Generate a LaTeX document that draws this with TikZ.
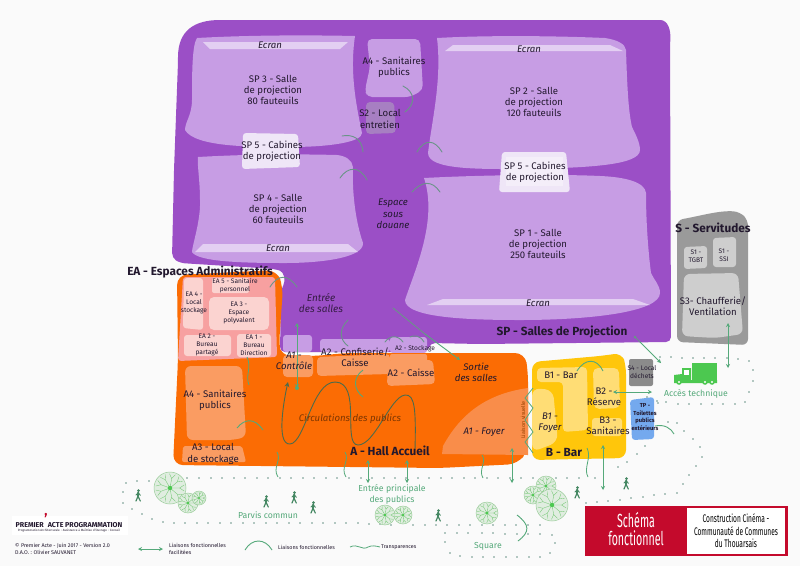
\documentclass[tikz,border=0pt]{standalone}
\usepackage{fontspec}
\usepackage{graphicx}
\setmainfont{Fira Sans}
\usetikzlibrary{arrows.meta}

\definecolor{violet}{HTML}{9B4FC6}
\definecolor{mauve}{HTML}{C79DE4}
\definecolor{ecran}{HTML}{E3CFF2}
\definecolor{cabine}{HTML}{EFE6F7}
\definecolor{entretien}{HTML}{A77FC2}
\definecolor{hall}{HTML}{FB6C04}
\definecolor{halllight}{HTML}{FA9C62}
\definecolor{foyer}{HTML}{F98D4A}
\definecolor{rosebg}{HTML}{F7A0A0}
\definecolor{roselight}{HTML}{FBD3D0}
\definecolor{bar}{HTML}{FFC60B}
\definecolor{barlight}{HTML}{FFDD75}
\definecolor{gristech}{HTML}{9A9A9A}
\definecolor{grislight}{HTML}{CECECE}
\definecolor{grislocal}{HTML}{8B8B8B}
\definecolor{bleutp}{HTML}{74A9EE}
\definecolor{vert}{HTML}{55A97A}
\definecolor{vertvif}{HTML}{4CC850}
\definecolor{vertgris}{HTML}{6A9488}
\definecolor{encre}{HTML}{22182E}
\definecolor{rouge}{HTML}{C40A2C}

\tikzset{
  lbl/.style={align=center, font=\fontsize{9.6}{11.3}\selectfont, text=encre, inner sep=0pt},
  small/.style={align=center, font=\fontsize{6.6}{8}\selectfont, text=encre, inner sep=0pt},
  ital/.style={align=center, font=\fontsize{9.6}{11.3}\selectfont\itshape, text=encre, inner sep=0pt},
  zone/.style={font=\fontsize{11.8}{13}\selectfont\bfseries, text=encre, inner sep=0pt},
  site/.style={align=center, font=\fontsize{8.7}{11}\selectfont, text=vert, inner sep=0pt},
  legende/.style={inner sep=0pt, align=left, anchor=west, font=\fontsize{5.4}{7}\selectfont, text=encre},
  liaison/.style={vertgris, line width=0.9pt, line cap=round},
  arc/.style={vert, line width=0.9pt},
  acces/.style={vert, line width=0.9pt, {Stealth[length=4pt,width=4pt]}-{Stealth[length=4pt,width=4pt]}},
  sortie/.style={vert, line width=0.9pt, -{Stealth[length=4pt,width=4pt]}},
  wave/.style={vert, line width=0.8pt},
  pics/tree/.style={code={
    \fill[green!40!black!12, draw=green!50!black!40, line width=0.5pt] (0,0) circle (#1);
    \foreach \a in {0,40,...,320} {
      \draw[green!60!black!55, line width=0.35pt] (0,0) -- (\a:#1*0.6) -- (\a+12:#1*0.9);
      \draw[green!60!black!55, line width=0.35pt] (\a:#1*0.6) -- (\a-12:#1*0.9);
    }
    \fill[vertvif] (0,0) circle (#1*0.14);
  }},
  pics/walker/.style={code={
    \fill[vert!80!black] (0.5,-4.5) circle (1.5);
    \draw[vert!80!black, line width=1.8pt, line cap=round] (0.2,-2.6) -- (0,1.2);
    \draw[vert!80!black, line width=1.2pt, line cap=round] (0,1.2) -- (-2,6) (0,1.2) -- (2.3,6);
    \draw[vert!80!black, line width=0.9pt, line cap=round] (0.2,-2.4) -- (2.4,0.4) (0.2,-2.4) -- (-2,0);
  }}
}

\begin{document}
\begin{tikzpicture}[x=1pt, y=-1pt]
\useasboundingbox (0,0) rectangle (800,566);
\fill[white!98!black] (0,0) rectangle (800,566);

% salles de projection
\fill[violet, rounded corners=5pt] (178,62) .. controls (178,30) and (195,20) .. (225,20) -- (655,20) .. controls (668,20) and (671,30) .. (670,45) -- (671,342) -- (480,344) -- (430,343) -- (428,352) -- (280,352) -- (281,290) .. controls (286,280) and (284,272) .. (275,269) -- (180,263) -- (172,258) -- (174,170) -- cycle;
\fill[mauve] (197,38) .. controls (250,35) and (310,35) .. (355,36) .. controls (350,70) and (355,100) .. (362,133) .. controls (362,142) and (330,147) .. (290,147) .. controls (250,147) and (195,147) .. (185,130) .. controls (185,122) and (192,115) .. (192,100) .. controls (192,75) and (192,45) .. (197,38) -- cycle;
\fill[mauve] (198,157) .. controls (250,154) and (300,154) .. (337,155) .. controls (346,156) and (352,160) .. (353,167) .. controls (352,190) and (355,220) .. (363,243) .. controls (364,258) and (320,263) .. (285,263) .. controls (245,263) and (198,262) .. (192,252) .. controls (192,246) and (201,220) .. (200,200) .. controls (200,180) and (197,165) .. (198,157) -- cycle;
\fill[ecran] (203,42) -- (348,42) -- (340,49) -- (210,49) -- cycle;
\fill[ecran] (195,252) -- (203,244) -- (348,244) -- (358,252) -- cycle;
\fill[cabine, rounded corners=3pt] (243,133) -- (298,134) -- (300,167) -- (242,169) -- cycle;
\fill[mauve, rounded corners=5pt] (367,39) -- (420,39) -- (423,90) -- (410,97) -- (367,97) -- (365,90) -- (370,67) -- cycle;
\fill[entretien, rounded corners=4pt] (366,102) -- (394,102) -- (396,133) -- (366,134) -- cycle;
\fill[mauve] (437,38) .. controls (490,35) and (560,36) .. (605,38) .. controls (618,40) and (625,44) .. (626,50) .. controls (627,80) and (628,110) .. (632,127) .. controls (636,135) and (640,143) .. (640,150) .. controls (640,165) and (590,168) .. (520,169) .. controls (480,169) and (428,170) .. (428,153) .. controls (432,120) and (442,80) .. (437,38) -- cycle;
\fill[ecran] (445,51) -- (453,45) -- (610,45) -- (623,51) -- cycle;
\fill[mauve] (424,178) .. controls (480,175) and (560,174) .. (600,176) .. controls (625,177) and (645,182) .. (646,193) .. controls (646,220) and (648,250) .. (651,273) .. controls (654,280) and (660,285) .. (660,293) .. controls (660,312) and (590,320) .. (520,320) .. controls (470,320) and (405,318) .. (405,300) .. controls (415,270) and (438,220) .. (424,178) -- cycle;
\fill[ecran] (427,305) -- (443,299) -- (633,299) -- (650,305) -- cycle;
\fill[cabine, rounded corners=3pt] (502,152) -- (566,152) -- (570,192) -- (499,192) -- cycle;
\fill[white, opacity=0.35] (506,157) rectangle (563,186);
\fill[mauve, rounded corners=3pt] (283,352) -- (283,335) -- (312,335) -- (312,352) -- cycle;
\fill[mauve, rounded corners=3pt] (320,352) -- (320,339) -- (390,339) -- (390,352) -- cycle;
\fill[mauve, rounded corners=3pt] (390,353) -- (390,337) -- (427,337) -- (427,353) -- cycle;

% hall accueil
\fill[white] (281,353) rectangle (430,356);
\fill[hall, rounded corners=10pt] (177,275) -- (277,270) -- (283,287) -- (279,345) -- (281,356) -- (316,356) -- (345,353) -- (525,353) -- (528,372) -- (528,450) -- (518,464) -- (440,468) -- (173,465) -- (178,360) -- cycle;
\fill[rosebg, rounded corners=3pt] (183,277) -- (275,277) -- (277,357) -- (178,361) -- cycle;
\fill[roselight, rounded corners=3pt] (184,278) -- (203,278) -- (203,330) -- (183,328) -- cycle;
\fill[roselight, rounded corners=2pt] (212,278) rectangle (249,293);
\fill[roselight, rounded corners=5pt] (209,297) rectangle (269,330);
\fill[roselight, rounded corners=3pt] (184,335) rectangle (231,356);
\fill[roselight, rounded corners=3pt] (237,334) rectangle (271,357);
\fill[halllight, rounded corners=4pt] (283,355) rectangle (313,377);
\fill[halllight, rounded corners=4pt] (317,357) -- (390,354) -- (390,374) -- (317,376) -- cycle;
\fill[halllight, rounded corners=2pt] (390,354) -- (427,354) -- (427,362) -- (390,362) -- cycle;
\fill[halllight, rounded corners=4pt] (388,360) -- (433,360) -- (435,384) -- (387,386) -- cycle;
\fill[halllight, rounded corners=6pt] (185,366) -- (242,366) -- (246,437) -- (233,440) -- (187,440) -- cycle;
\fill[halllight, rounded corners=2pt] (183,446) -- (242,446) -- (246,462) -- (182,462) -- cycle;
\fill[foyer] (528,388) .. controls (485,394) and (460,415) .. (443,446) -- (442,454) -- (528,455) -- cycle;

% bar
\fill[bar, rounded corners=8pt] (532,362) -- (600,356) -- (622,353) -- (626,366) -- (626,458) -- (532,460) -- cycle;
\fill[barlight, rounded corners=4pt] (537,368) -- (587,367) -- (588,430) -- (563,432) -- (563,382) -- (537,382) -- cycle;
\fill[barlight, rounded corners=8pt] (532,388) -- (553,390) -- (558,442) -- (532,452) -- cycle;
\fill[barlight, rounded corners=5pt] (593,368) -- (619,368) -- (620,408) -- (594,409) -- cycle;
\fill[barlight, rounded corners=3pt] (592,418) rectangle (622,436);
\fill[grislocal, rounded corners=2pt] (629,359) rectangle (653,386);
\fill[bleutp, rounded corners=3pt] (630,400) -- (654,397) -- (654,439) -- (632,440) -- cycle;

% servitudes
\fill[gristech, rounded corners=6pt] (677,220) .. controls (700,216) and (720,210) .. (740,212) -- (748,220) -- (748,345) -- (677,342) -- cycle;
\fill[grislight, rounded corners=3pt] (684,247) -- (707,246) -- (707,268) -- (684,269) -- cycle;
\fill[grislight, rounded corners=3pt] (713,238) -- (736,237) -- (736,267) -- (713,267) -- cycle;
\fill[grislight, rounded corners=6pt] (684,274) -- (738,273) -- (743,334) -- (715,338) -- (682,336) -- cycle;

% camion
\fill[vertvif] (692,363) rectangle (717,380);
\fill[vertvif] (674,383) -- (674,375) -- (682,374) -- (682,368) -- (691,368) -- (691,380) -- (717,380) -- (717,383) -- cycle;
\fill[white] (684,370) rectangle (689,375);
\foreach \x in {679,705,712} {
  \fill[vertvif] (\x,382) circle (2.8);
  \fill[white] (\x,382) circle (1.2);
}

% cheminements
\foreach \x/\y in {126/483, 137/481, 149/481, 160/480, 187/478, 199/478, 211/478, 222/478, 234/478, 245/478, 257/478, 268/478, 280/478, 291/478, 303/478, 314/478, 326/478, 337/478, 349/478, 361/478, 372/478, 384/478, 395/478, 406/478, 418/478, 429/478, 441/478, 452/478, 464/478, 475/478, 487/478, 498/478, 510/478, 521/478, 533/478, 544/478, 556/478, 567/478, 579/478, 595/478, 618/467, 627/462, 637/454, 645/446,
  123/492, 123/503, 132/509, 142/514, 152/519, 163/522, 174/523, 185/523, 197/523, 208/523, 220/523, 231/523, 243/523, 254/523, 266/523, 277/523, 289/523, 300/523, 312/523, 323/523, 335/523, 346/523, 358/523, 369/524, 380/524, 391/525, 413/525, 425/525, 436/525, 447/525, 459/525, 470/525, 482/525, 493/525, 505/525, 516/525, 528/525, 540/525, 553/520, 567/504,
  445/533, 445/542, 450/553, 460/556, 472/557, 483/557, 494/557, 506/557, 517/557, 529/557, 540/557, 550/553, 555/543, 552/535, 540/534, 528/534, 517/534, 505/534, 493/533, 482/533, 468/533, 457/533,
  586/503, 597/502, 608/501, 620/500, 631/498, 643/497, 654/495, 665/494, 677/493, 683/484, 689/475, 696/466, 702/457, 700/447, 693/439, 684/431, 677/423, 668/422,
  660/357, 671/357, 682/358, 693/358, 704/358, 715/358, 727/358, 738/359, 749/361, 753/370, 753/381, 749/392, 745/402, 735/404, 723/404, 712/404, 701/404, 689/404, 678/404, 666/402, 657/401, 647/397, 658/403}
  \fill[vertgris] (\x,\y) circle (0.9);

% arbres
\pic at (170,488) {tree=16};
\pic at (188,503) {tree=10};
\pic at (199,498) {tree=7};
\pic at (385,515) {tree=10};
\pic at (403,515) {tree=9};
\pic at (487,513) {tree=11};
\pic at (546,486) {tree=10};
\pic at (533,495) {tree=9};
\pic at (552,505) {tree=16};

% pietons
\foreach \x/\y in {138/495, 266/501, 294/497, 313/507, 438/515, 577/492, 626/483}
  \pic at (\x,\y) {walker};

% liaisons fonctionnelles
\draw[liaison] (403,86) .. controls (415,92) and (416,104) .. (405,112);
\draw[liaison] (342,136) .. controls (352,134) and (362,138) .. (363,152);
\draw[liaison] (340,178) .. controls (348,166) and (360,166) .. (367,180);
\draw[liaison] (417,152) .. controls (425,138) and (435,140) .. (442,152);
\draw[liaison] (412,192) .. controls (422,181) and (432,180) .. (440,192);
\draw[liaison] (270,287) .. controls (278,274) and (288,274) .. (297,287);
\draw[liaison] (348,320) .. controls (338,330) and (340,340) .. (348,346);
\draw[liaison] (385,342) .. controls (390,335) and (398,335) .. (403,342);
\draw[liaison] (410,337) .. controls (414,335) and (420,335) .. (424,342);
\draw[arc] (237,428) .. controls (245,418) and (255,418) .. (263,430);
\draw[arc] (363,370) .. controls (352,378) and (354,390) .. (363,397);
\draw[arc] (577,371) .. controls (585,358) and (597,358) .. (603,371);
\draw[arc] (655,426) .. controls (664,424) and (671,428) .. (674,434);
\draw[arc] (517,515) .. controls (530,525) and (530,532) .. (518,541);

% liaisons facilitees
\draw[acces] (297,388) -- (297,323);
\fill[vert] (297,388) circle (2);
\draw[liaison] (393,308) -- (425,334);
\draw[sortie] (425,334) -- (460,360);
\draw[acces] (368,460) -- (368,483);
\draw[acces] (407,460) -- (407,483);
\draw[acces] (512,448) -- (512,483);
\draw[acces] (603,445) -- (603,490);
\draw[liaison] (635,337) -- (640,342);
\draw[sortie] (640,342) -- (661,363);
\fill[vertgris] (635,337) circle (1.5);
\draw[acces] (728,323) -- (728,368);
\draw[acces] (613,392) -- (652,392);

% circulation
\draw[black!70!green!40!gray, line width=0.9pt, -{Stealth[length=5pt,width=5pt]}] (415,450) .. controls (416,410) and (415,394) .. (405,395) .. controls (390,397) and (375,445) .. (358,445) .. controls (342,445) and (362,382) .. (335,382) .. controls (312,382) and (305,443) .. (290,444) .. controls (275,445) and (285,395) .. (288,382);

% transparences
\draw[wave] (249,385) .. controls (245,375) and (252,368) .. (247,357);
\draw[wave] (277,452) .. controls (282,460) and (272,468) .. (278,477);
\draw[wave] (345,452) .. controls (350,460) and (340,468) .. (346,477);
\draw[wave] (482,455) .. controls (487,462) and (478,470) .. (483,478);
\draw[wave] (587,448) .. controls (592,458) and (583,468) .. (588,477);
\draw[wave] (533,388) -- (525,398) -- (533,408) -- (525,420) -- (533,432) -- (525,442) -- (533,453);

% textes violet
\node[ital] (ecran3) at (270,45) {Ecran};
\node[lbl] (sp3) at (273,90) {SP 3 - Salle\\de projection\\80 fauteuils};
\node[lbl] (a4haut) at (394,67) {A4 - Sanitaires\\publics};
\node[lbl] (s2) at (380,119) {S2 - Local\\entretien};
\node[lbl] (sp5g) at (272,151) {SP 5 - Cabines\\de projection};
\node[ital] (espace) at (393,214) {Espace\\sous\\douane};
\node[lbl] (sp4) at (278,209) {SP 4 - Salle\\de projection\\60 fauteuils};
\node[ital] (ecran4) at (278,248) {Ecran};
\node[ital] (ecran2) at (529,49) {Ecran};
\node[lbl] (sp2) at (534,102) {SP 2 - Salle\\de projection\\120 fauteuils};
\node[lbl] (sp5d) at (535,172) {SP 5 -  Cabines\\de projection};
\node[lbl] (sp1) at (538,244) {SP 1 - Salle\\de projection\\250 fauteuils};
\node[ital] (ecran1) at (538,303) {Ecran};
\node[zone] (sptitre) at (562,332) {SP - Salles de Projection};

% textes administratif
\node[zone] (eatitre) at (200,272) {EA - Espaces Administratifs};
\node[small] (ea5) at (235,286) {EA 5 - Sanitaire\\personnel};
\node[small] (ea4) at (194,303) {EA 4 -\\Local\\stockage};
\node[small] (ea3) at (239,313) {EA 3 -\\Espace\\polyvalent};
\node[small] (ea2) at (207,345) {EA 2 -\\Bureau\\partagé};
\node[small] (ea1) at (254,345) {EA 1 -\\Bureau\\Direction};

% textes hall
\node[ital, text=violet!35!black, font=\fontsize{10}{11}\selectfont\itshape] (entree) at (321,303) {Entrée\\des salles};
\node[ital] (a1) at (294,361) {A1 -\\Contrôle};
\node[lbl] (a2c) at (355,357) {A2 - Confiserie/\\Caisse};
\node[small] (a2s) at (415,349) {A2 - Stockage};
\node[lbl] (a2) at (411,373) {A2 - Caisse};
\node[ital] (sortie) at (476,372) {Sortie\\des salles};
\node[ital, text=hall!50!black] (circ) at (350,419) {Circulations des publics};
\node[lbl] (a4) at (215,400) {A4 - Sanitaires\\publics};
\node[lbl] (a3) at (213,454) {A3 - Local\\de stockage};
\node[zone] (halltitre) at (390,451) {A - Hall Accueil};
\node[ital] (a1f) at (484,432) {A1 - Foyer};
\node[small, text=hall!60!black, font=\fontsize{5.4}{6}\selectfont, rotate=90] (visuel) at (523,420) {Liaison visuelle};

% textes bar et technique
\node[lbl] (b1) at (561,375) {B1 - Bar};
\node[ital] (b1f) at (550,423) {B1 -\\Foyer};
\node[lbl] (b2) at (604,397) {B2 -\\Réserve};
\node[lbl] (b3) at (608,426) {B3 -\\Sanitaires};
\node[zone] (bartitre) at (564,452) {B - Bar};
\node[small] (s4) at (642,372) {S4 - Local\\déchets};
\node[small, font=\fontsize{5.8}{7.7}\selectfont\bfseries] (tp) at (645,417) {TP -\\Toilettes\\publics\\extérieurs};
\node[zone] (stitre) at (713,228) {S - Servitudes};
\node[small] (s1a) at (696,256) {S1 -\\TGBT};
\node[small] (s1b) at (724,255) {S1 -\\SSI};
\node[lbl] (s3) at (713,306) {S3- Chaufferie/\\Ventilation};

% textes exterieur
\node[site] (technique) at (696,394) {Accès technique};
\node[site] (parvis) at (268,515) {Parvis commun};
\node[site] (principale) at (392,494) {Entrée principale\\des publics};
\node[site] (square) at (488,546) {Square};

% legende
\fill[white] (12,516) rectangle (128,535);
\node[inner sep=0pt, font=\fontsize{7.1}{8}\selectfont\bfseries, text=encre] (logo) at (69,525) {PREMIER\hspace{4pt}ACTE PROGRAMMATION};
\node[inner sep=0pt, font=\fontsize{13}{13}\selectfont\bfseries, text=rouge] (apostrophe) at (46,516) {,};
\node[inner sep=0pt, font=\fontsize{3.1}{4}\selectfont, text=encre] (metier) at (69,531) {Programmation Architecturale - Assistance à Maîtrise d'Ouvrage - Conseil};
\node[legende] (credits) at (15,549) {© Premier Acte - Juin 2017 - Version 2.0\\D.A.O. : Olivier SAUVANET};
\coordinate (lega) at (138,549);
\coordinate (legb) at (163,549);
\draw[acces] (lega) -- (legb);
\node[legende] (leg1) at (169,549) {Liaisons fonctionnelles\\facilitées};
\draw[arc] (245,550) .. controls (252,538) and (265,538) .. (272,550);
\node[legende] (leg2) at (278,547) {Liaisons fonctionnelles};
\draw[wave] (350,547) .. controls (358,543) and (362,551) .. (368,547) .. controls (372,545) and (376,546) .. (380,547);
\node[legende] (leg3) at (381,547) {Transparences};

% cartouche
\fill[rouge] (585,506) rectangle (788,556);
\fill[white] (687,508) rectangle (785,554);
\node[inner sep=0pt, align=center, text=white, font=\fontsize{19}{18}\selectfont] (schema) at (636,529) {\scalebox{0.56}[1]{Schéma}\\\scalebox{0.56}[1]{fonctionnel}};
\node[inner sep=0pt, align=center, text=black, font=\fontsize{11}{12.5}\selectfont] (projet) at (736,531) {\scalebox{0.6}[1]{Construction Cinéma -}\\\scalebox{0.6}[1]{Communauté de Communes}\\\scalebox{0.6}[1]{du Thouarsais}};
\end{tikzpicture}
\end{document}
